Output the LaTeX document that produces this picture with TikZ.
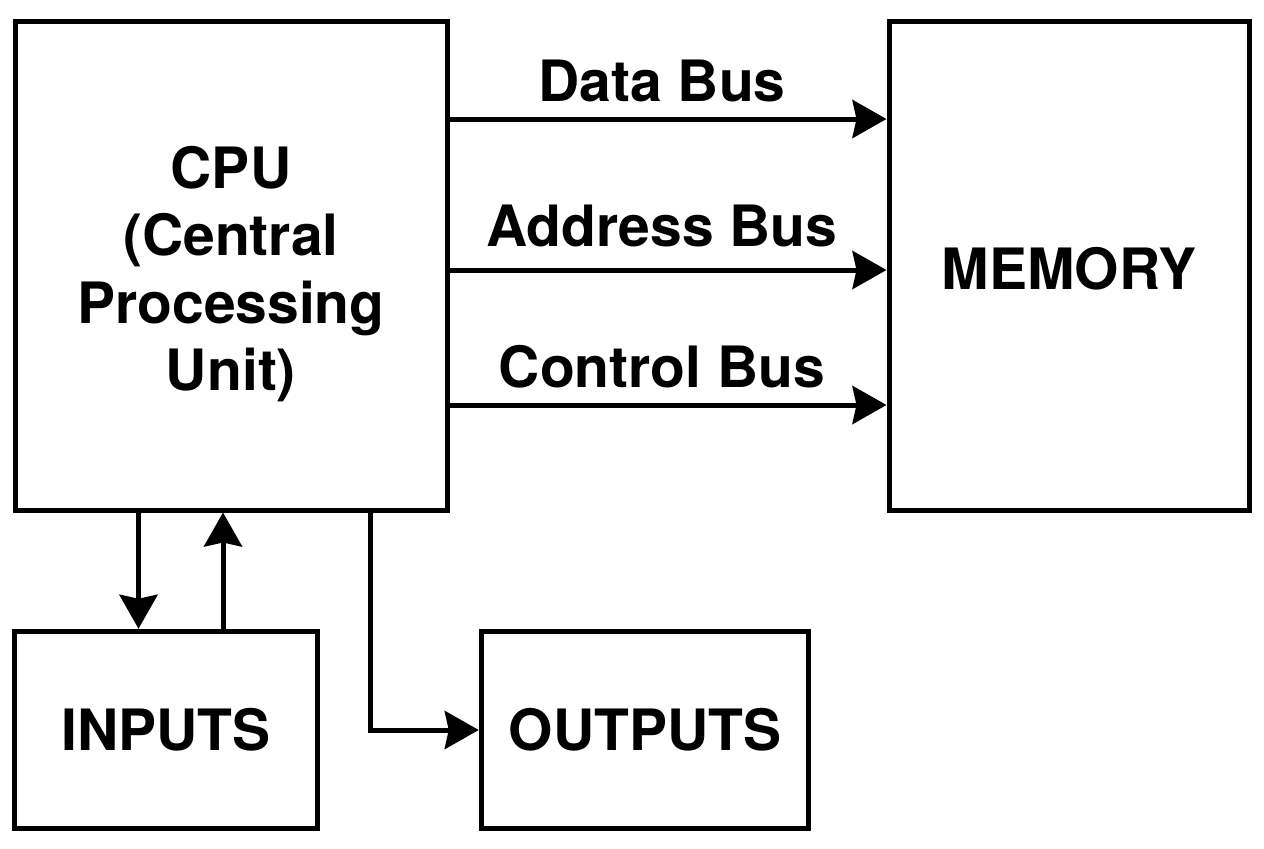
\documentclass[tikz,border=0pt]{standalone}
\usepackage{fontspec}
\setmainfont{TeX Gyre Heros}
\usepackage{tikz}
\usetikzlibrary{arrows.meta, positioning}

\begin{document}
\begin{tikzpicture}[
  x=0.5pt, y=-0.5pt,
  >=Stealth,
  unit/.style={
    rectangle, draw=black, line width=2.5pt, inner sep=0pt,
    align=center, font=\bfseries\fontsize{28.5}{33.6}\selectfont
  },
  buslabel/.style={font=\bfseries\fontsize{28.5}{34.2}\selectfont, inner sep=0pt, text depth=0pt, above=#1, xshift=-3pt},
  buslabel/.default=7.5pt,
  bus/.style={-{Stealth[length=17pt, width=19pt, inset=2pt]}, line width=2.5pt},
]
\useasboundingbox (0,0) rectangle (1264,848);

% Units
\node[unit, minimum width=216pt, minimum height=244.5pt, text height=130.5pt] (cpu) at (231, 265.5) {CPU\\(Central\\Processing\\Unit)};
\node[unit, minimum width=180pt, minimum height=244.5pt, text height=24.5pt] (mem) at (1069, 265.5) {MEMORY};
\node[unit, minimum width=151.25pt, minimum height=98.75pt] (inputs)  at (166, 730) {INPUTS};
\node[unit, minimum width=163.75pt, minimum height=98.75pt] (outputs) at (645, 730) {OUTPUTS};

% 1. Data bus
\draw[bus] ([yshift=73.25pt]cpu.east) -- node[buslabel] {Data Bus} ([yshift=73.25pt]mem.west);

% 2. Address bus
\draw[bus] ([yshift=-2.25pt]cpu.east) -- node[buslabel=10.5pt] {Address Bus} ([yshift=-2.25pt]mem.west);

% 3. Control bus
\draw[bus] ([yshift=-69.75pt]cpu.east) -- node[buslabel] {Control Bus} ([yshift=-69.75pt]mem.west);

% 4. CPU to inputs and back
\draw[bus] ([xshift=-46.25pt]cpu.south) -- ([xshift=-46.25pt]cpu.south |- inputs.north);
\draw[bus] ([xshift=-4pt]cpu.south |- inputs.north) -- ([xshift=-4pt]cpu.south);

% 5. CPU to outputs
\draw[bus] ([xshift=69.5pt]cpu.south) |- (outputs.west);

\end{tikzpicture}
\end{document}
